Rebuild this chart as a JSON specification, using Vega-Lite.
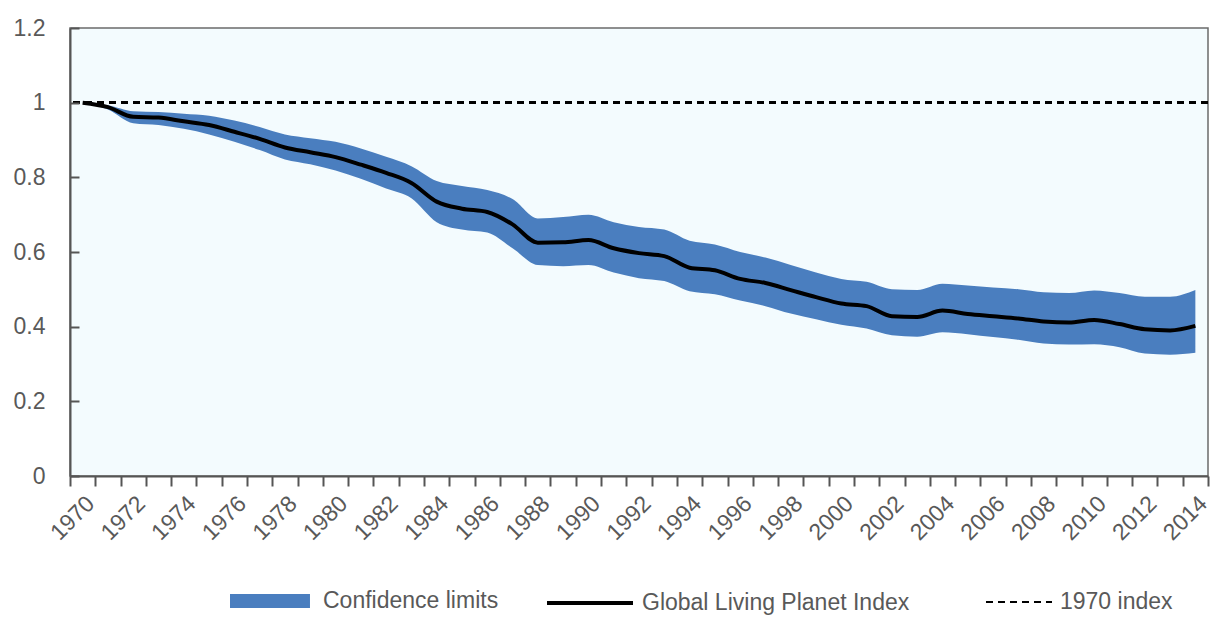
{
  "$schema": "https://vega.github.io/schema/vega-lite/v6.json",
  "width": 1138,
  "height": 448,
  "autosize": "none",
  "padding": {"left": 70, "top": 28, "right": 5, "bottom": 141},
  "background": "#ffffff",
  "config": {
    "view": {"fill": "#f3fbfe", "stroke": "#6b6b6b", "strokeWidth": 1.5},
    "axis": {
      "grid": false,
      "labelFont": "Liberation Sans",
      "labelFontSize": 23,
      "labelColor": "#595959",
      "domainColor": "#555555",
      "domainWidth": 2,
      "tickColor": "#555555",
      "tickWidth": 2,
      "title": null
    },
    "legend": {
      "labelFont": "Liberation Sans",
      "labelFontSize": 23,
      "labelColor": "#595959",
      "labelLimit": 0,
      "labelOffset": 7,
      "title": null,
      "orient": "none",
      "direction": "horizontal",
      "symbolSize": 7396,
      "legendY": 530
    }
  },
  "data": {
    "values": [
      {"year": 1970, "lpi": 1.0, "lo": 1.0, "hi": 1.0},
      {"year": 1971, "lpi": 0.988, "lo": 0.982, "hi": 0.993},
      {"year": 1972, "lpi": 0.962, "lo": 0.945, "hi": 0.977},
      {"year": 1973, "lpi": 0.96, "lo": 0.94, "hi": 0.975},
      {"year": 1974, "lpi": 0.95, "lo": 0.93, "hi": 0.97},
      {"year": 1975, "lpi": 0.94, "lo": 0.915, "hi": 0.965},
      {"year": 1976, "lpi": 0.922, "lo": 0.895, "hi": 0.952},
      {"year": 1977, "lpi": 0.903, "lo": 0.873, "hi": 0.935},
      {"year": 1978, "lpi": 0.88, "lo": 0.848, "hi": 0.915},
      {"year": 1979, "lpi": 0.867, "lo": 0.835, "hi": 0.905},
      {"year": 1980, "lpi": 0.854, "lo": 0.818, "hi": 0.895},
      {"year": 1981, "lpi": 0.834, "lo": 0.796, "hi": 0.877},
      {"year": 1982, "lpi": 0.812, "lo": 0.77, "hi": 0.855},
      {"year": 1983, "lpi": 0.785, "lo": 0.744, "hi": 0.83},
      {"year": 1984, "lpi": 0.735, "lo": 0.68, "hi": 0.79},
      {"year": 1985, "lpi": 0.716, "lo": 0.66, "hi": 0.777},
      {"year": 1986, "lpi": 0.707, "lo": 0.652, "hi": 0.766},
      {"year": 1987, "lpi": 0.674, "lo": 0.61, "hi": 0.742},
      {"year": 1988, "lpi": 0.625, "lo": 0.565, "hi": 0.69},
      {"year": 1989, "lpi": 0.626, "lo": 0.562, "hi": 0.694},
      {"year": 1990, "lpi": 0.632, "lo": 0.565, "hi": 0.7},
      {"year": 1991, "lpi": 0.61, "lo": 0.545, "hi": 0.68},
      {"year": 1992, "lpi": 0.597, "lo": 0.53, "hi": 0.667},
      {"year": 1993, "lpi": 0.589, "lo": 0.522, "hi": 0.66},
      {"year": 1994, "lpi": 0.558, "lo": 0.495, "hi": 0.63},
      {"year": 1995, "lpi": 0.551, "lo": 0.487, "hi": 0.62},
      {"year": 1996, "lpi": 0.528, "lo": 0.47, "hi": 0.6},
      {"year": 1997, "lpi": 0.517, "lo": 0.455, "hi": 0.585},
      {"year": 1998, "lpi": 0.498, "lo": 0.435, "hi": 0.565},
      {"year": 1999, "lpi": 0.479, "lo": 0.42, "hi": 0.545},
      {"year": 2000, "lpi": 0.462, "lo": 0.405, "hi": 0.528},
      {"year": 2001, "lpi": 0.455, "lo": 0.395, "hi": 0.52},
      {"year": 2002, "lpi": 0.428, "lo": 0.377, "hi": 0.5},
      {"year": 2003, "lpi": 0.426, "lo": 0.373, "hi": 0.498},
      {"year": 2004, "lpi": 0.443, "lo": 0.385, "hi": 0.515},
      {"year": 2005, "lpi": 0.434, "lo": 0.38, "hi": 0.51},
      {"year": 2006, "lpi": 0.428, "lo": 0.372, "hi": 0.505},
      {"year": 2007, "lpi": 0.422, "lo": 0.365, "hi": 0.5},
      {"year": 2008, "lpi": 0.414, "lo": 0.355, "hi": 0.492},
      {"year": 2009, "lpi": 0.411, "lo": 0.352, "hi": 0.49},
      {"year": 2010, "lpi": 0.418, "lo": 0.353, "hi": 0.497},
      {"year": 2011, "lpi": 0.407, "lo": 0.345, "hi": 0.49},
      {"year": 2012, "lpi": 0.393, "lo": 0.328, "hi": 0.48},
      {"year": 2013, "lpi": 0.39, "lo": 0.325, "hi": 0.48},
      {"year": 2014, "lpi": 0.402, "lo": 0.33, "hi": 0.498}
    ]
  },
  "resolve": {"axis": {"x": "independent"}},
  "layer": [
    {
      "mark": {"type": "area", "interpolate": "monotone", "opacity": 1},
      "encoding": {
        "x": {
          "field": "year",
          "type": "quantitative",
          "scale": {"domain": [1969.5, 2014.5], "nice": false, "zero": false},
          "axis": {
            "orient": "bottom",
            "values": [1970, 1972, 1974, 1976, 1978, 1980, 1982, 1984, 1986, 1988, 1990, 1992, 1994, 1996, 1998, 2000, 2002, 2004, 2006, 2008, 2010, 2012, 2014],
            "format": "d",
            "labelAngle": -45,
            "labelOverlap": false,
            "labelBound": false,
            "labelFlush": false,
            "ticks": false,
            "domain": false,
            "labelPadding": 16,
            "labelDx": -10
          }
        },
        "y": {
          "field": "lo",
          "type": "quantitative",
          "scale": {"domain": [0, 1.2], "nice": false},
          "axis": {
            "orient": "left",
            "values": [0, 0.2, 0.4, 0.6, 0.8, 1, 1.2],
            "format": "~g",
            "tickSize": -9,
            "labelPadding": 34,
            "labelOverlap": false,
            "labelBound": false,
            "labelFlush": false,
            "zindex": 1
          }
        },
        "y2": {"field": "hi"},
        "fill": {
          "datum": "Confidence limits",
          "scale": {"range": ["#4a7ebf"]},
          "legend": {
            "legendX": 160,
            "symbolType": "M-1,-0.163H0.86V0.163H-1Z",
            "symbolStrokeWidth": 0
          }
        }
      }
    },
    {
      "mark": {"type": "line", "interpolate": "monotone", "strokeWidth": 4},
      "encoding": {
        "x": {
          "field": "year",
          "type": "quantitative",
          "axis": {
            "orient": "bottom",
            "values": [1969.5, 1970.5, 1971.5, 1972.5, 1973.5, 1974.5, 1975.5, 1976.5, 1977.5, 1978.5, 1979.5, 1980.5, 1981.5, 1982.5, 1983.5, 1984.5, 1985.5, 1986.5, 1987.5, 1988.5, 1989.5, 1990.5, 1991.5, 1992.5, 1993.5, 1994.5, 1995.5, 1996.5, 1997.5, 1998.5, 1999.5, 2000.5, 2001.5, 2002.5, 2003.5, 2004.5, 2005.5, 2006.5, 2007.5, 2008.5, 2009.5, 2010.5, 2011.5, 2012.5, 2013.5, 2014.5],
            "labels": false,
            "tickSize": 10
          }
        },
        "y": {"field": "lpi", "type": "quantitative"},
        "stroke": {
          "datum": "Global Living Planet Index",
          "scale": {"range": ["#000000"]},
          "legend": {
            "legendX": 475,
            "symbolType": "M-1,0H1",
            "symbolStrokeWidth": 4
          }
        }
      }
    },
    {
      "mark": {"type": "rule", "strokeWidth": 2, "color": "#000000"},
      "encoding": {
        "y": {"datum": 1, "type": "quantitative"},
        "strokeDash": {
          "datum": "1970 index",
          "scale": {"range": [[7, 5]]},
          "legend": {
            "legendX": 895,
            "symbolType": "M-0.535,0H1",
            "symbolStrokeColor": "#000000",
            "symbolStrokeWidth": 2
          }
        }
      }
    }
  ]
}
